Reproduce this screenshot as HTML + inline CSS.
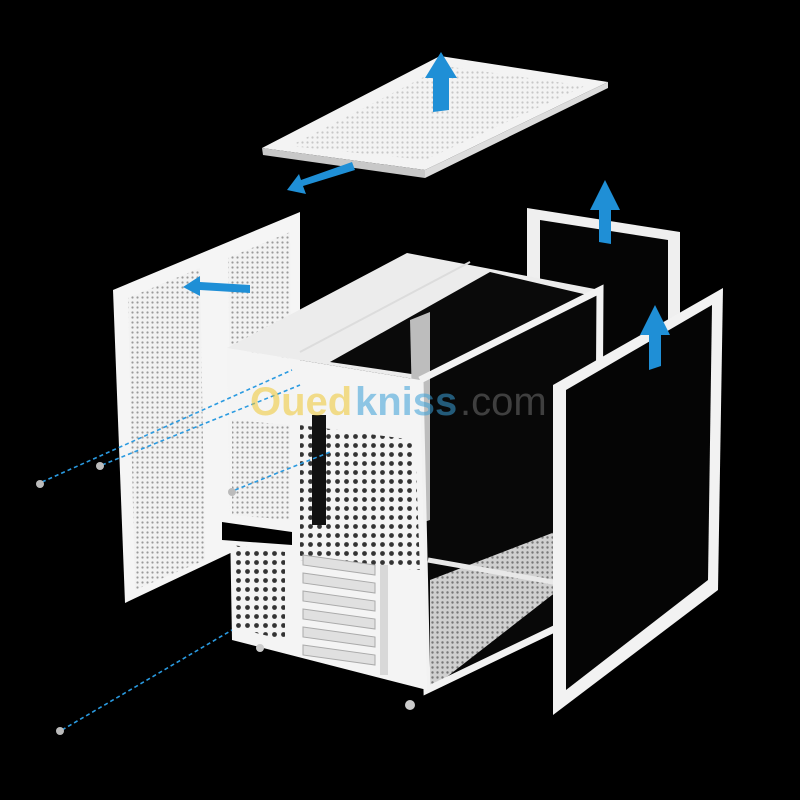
<!DOCTYPE html>
<html><head><style>
html,body{margin:0;padding:0;background:#000;}
svg{display:block}
</style></head><body>
<svg width="800" height="800" viewBox="0 0 800 800" xmlns="http://www.w3.org/2000/svg">
<defs>
<pattern id="mesh" width="5" height="5" patternUnits="userSpaceOnUse">
<rect width="5" height="5" fill="#f2f2f2"/><circle cx="2.5" cy="2.5" r="1.1" fill="#9a9a9a"/></pattern>
<pattern id="big" width="9" height="9" patternUnits="userSpaceOnUse">
<rect width="9" height="9" fill="#f4f4f4"/><circle cx="4.5" cy="4.5" r="2.4" fill="#333"/></pattern>
<pattern id="floor" width="5" height="5" patternUnits="userSpaceOnUse">
<rect width="5" height="5" fill="#d0d0d0"/><circle cx="2.5" cy="2.5" r="1.2" fill="#777"/></pattern>
</defs>
<rect width="800" height="800" fill="#000"/>

<!-- top panel -->
<polygon points="262,148 440,56 608,82 425,170" fill="#f3f3f3"/>
<polygon points="290,146 445,66 585,86 425,160" fill="url(#mesh)" opacity="0.5"/>
<polygon points="262,148 425,170 425,178 263,155" fill="#c8c8c8"/>
<polygon points="425,170 608,82 608,88 425,178" fill="#dcdcdc"/>
<polygon points="433,112 433,78 425,78 441,52 457,78 449,78 449,110" fill="#1f8fd6"/>
<polygon points="355,170 303,186 306,194 287,190 299,174 301,180 352,162" fill="#1f8fd6"/>

<!-- left side panel -->
<polygon points="113,290 300,212 300,520 125,603" fill="#f5f5f5"/>
<polygon points="128,298 200,268 205,560 135,590" fill="url(#mesh)"/>
<polygon points="228,258 290,232 292,505 232,532" fill="url(#mesh)"/>
<polygon points="250,285 200,282 200,276 183,287 200,296 200,290 250,293" fill="#1f8fd6"/>

<!-- back glass panel -->
<polygon points="527,208 680,232 680,520 527,472" fill="#efefef"/>
<polygon points="540,220 668,240 668,505 540,462" fill="#050505"/>
<polygon points="599,242 599,210 590,210 605,180 620,210 611,210 611,244" fill="#1f8fd6"/>

<!-- case body -->
<polygon points="227,348 407,253 600,290 420,380" fill="#ececec"/>
<polygon points="330,362 490,272 592,296 425,376" fill="#0a0a0a"/>
<line x1="300" y1="352" x2="470" y2="262" stroke="#dcdcdc" stroke-width="2"/>
<polygon points="420,380 600,290 598,608 427,690" fill="#080808"/>
<polygon points="430,580 560,530 597,560 430,690" fill="url(#floor)"/>
<polygon points="410,320 430,312 430,520 415,525" fill="#bdbdbd"/>
<polyline points="420,380 600,290 598,608 427,690 420,380" fill="none" stroke="#f2f2f2" stroke-width="7"/>
<line x1="428" y1="560" x2="598" y2="590" stroke="#e8e8e8" stroke-width="5"/>
<!-- front (visible) face -->
<polygon points="227,348 420,380 427,690 232,640" fill="#f4f4f4"/>
<polygon points="232,420 290,425 290,520 232,515" fill="url(#mesh)"/>
<polygon points="222,522 292,532 292,545 222,540" fill="#000"/>
<polygon points="300,425 415,440 420,570 300,560" fill="url(#big)"/>
<polygon points="232,545 285,552 285,640 235,628" fill="url(#big)"/>
<rect x="312" y="415" width="14" height="110" fill="#111"/>
<g fill="#e0e0e0" stroke="#aaa" stroke-width="1">
<polygon points="303,555 375,565 375,575 303,565"/>
<polygon points="303,573 375,583 375,593 303,583"/>
<polygon points="303,591 375,601 375,611 303,601"/>
<polygon points="303,609 375,619 375,629 303,619"/>
<polygon points="303,627 375,637 375,647 303,637"/>
<polygon points="303,645 375,655 375,665 303,655"/>
</g>
<rect x="380" y="565" width="8" height="110" fill="#d8d8d8"/>
<circle cx="260" cy="648" r="4" fill="#ccc"/><circle cx="410" cy="705" r="5" fill="#ccc"/>

<!-- front glass panel -->
<polygon points="553,385 723,288 718,590 553,715" fill="#f2f2f2"/>
<polygon points="566,390 712,305 708,580 566,690" fill="#050505"/>
<polygon points="649,370 649,335 640,335 655,305 670,335 661,335 661,366" fill="#1f8fd6"/>

<g stroke="#2a9ae0" stroke-width="1.6" stroke-dasharray="4,3" fill="none">
<line x1="42" y1="482" x2="292" y2="370"/>
<line x1="102" y1="465" x2="300" y2="385"/>
<line x1="235" y1="490" x2="330" y2="452"/>
<line x1="62" y1="730" x2="232" y2="630"/>
</g>
<g fill="#bbb"><circle cx="40" cy="484" r="4"/><circle cx="100" cy="466" r="4"/><circle cx="232" cy="492" r="4"/><circle cx="60" cy="731" r="4"/></g>

<text x="250" y="415" font-family="Liberation Sans, sans-serif" font-size="40" font-weight="bold" fill="#f0c830" opacity="0.55">Oued</text>
<text x="355" y="415" font-family="Liberation Sans, sans-serif" font-size="40" font-weight="bold" fill="#3aa0d8" opacity="0.55">kniss</text>
<text x="460" y="415" font-family="Liberation Sans, sans-serif" font-size="40" fill="#777" opacity="0.5">.com</text>
</svg>
</body></html>
